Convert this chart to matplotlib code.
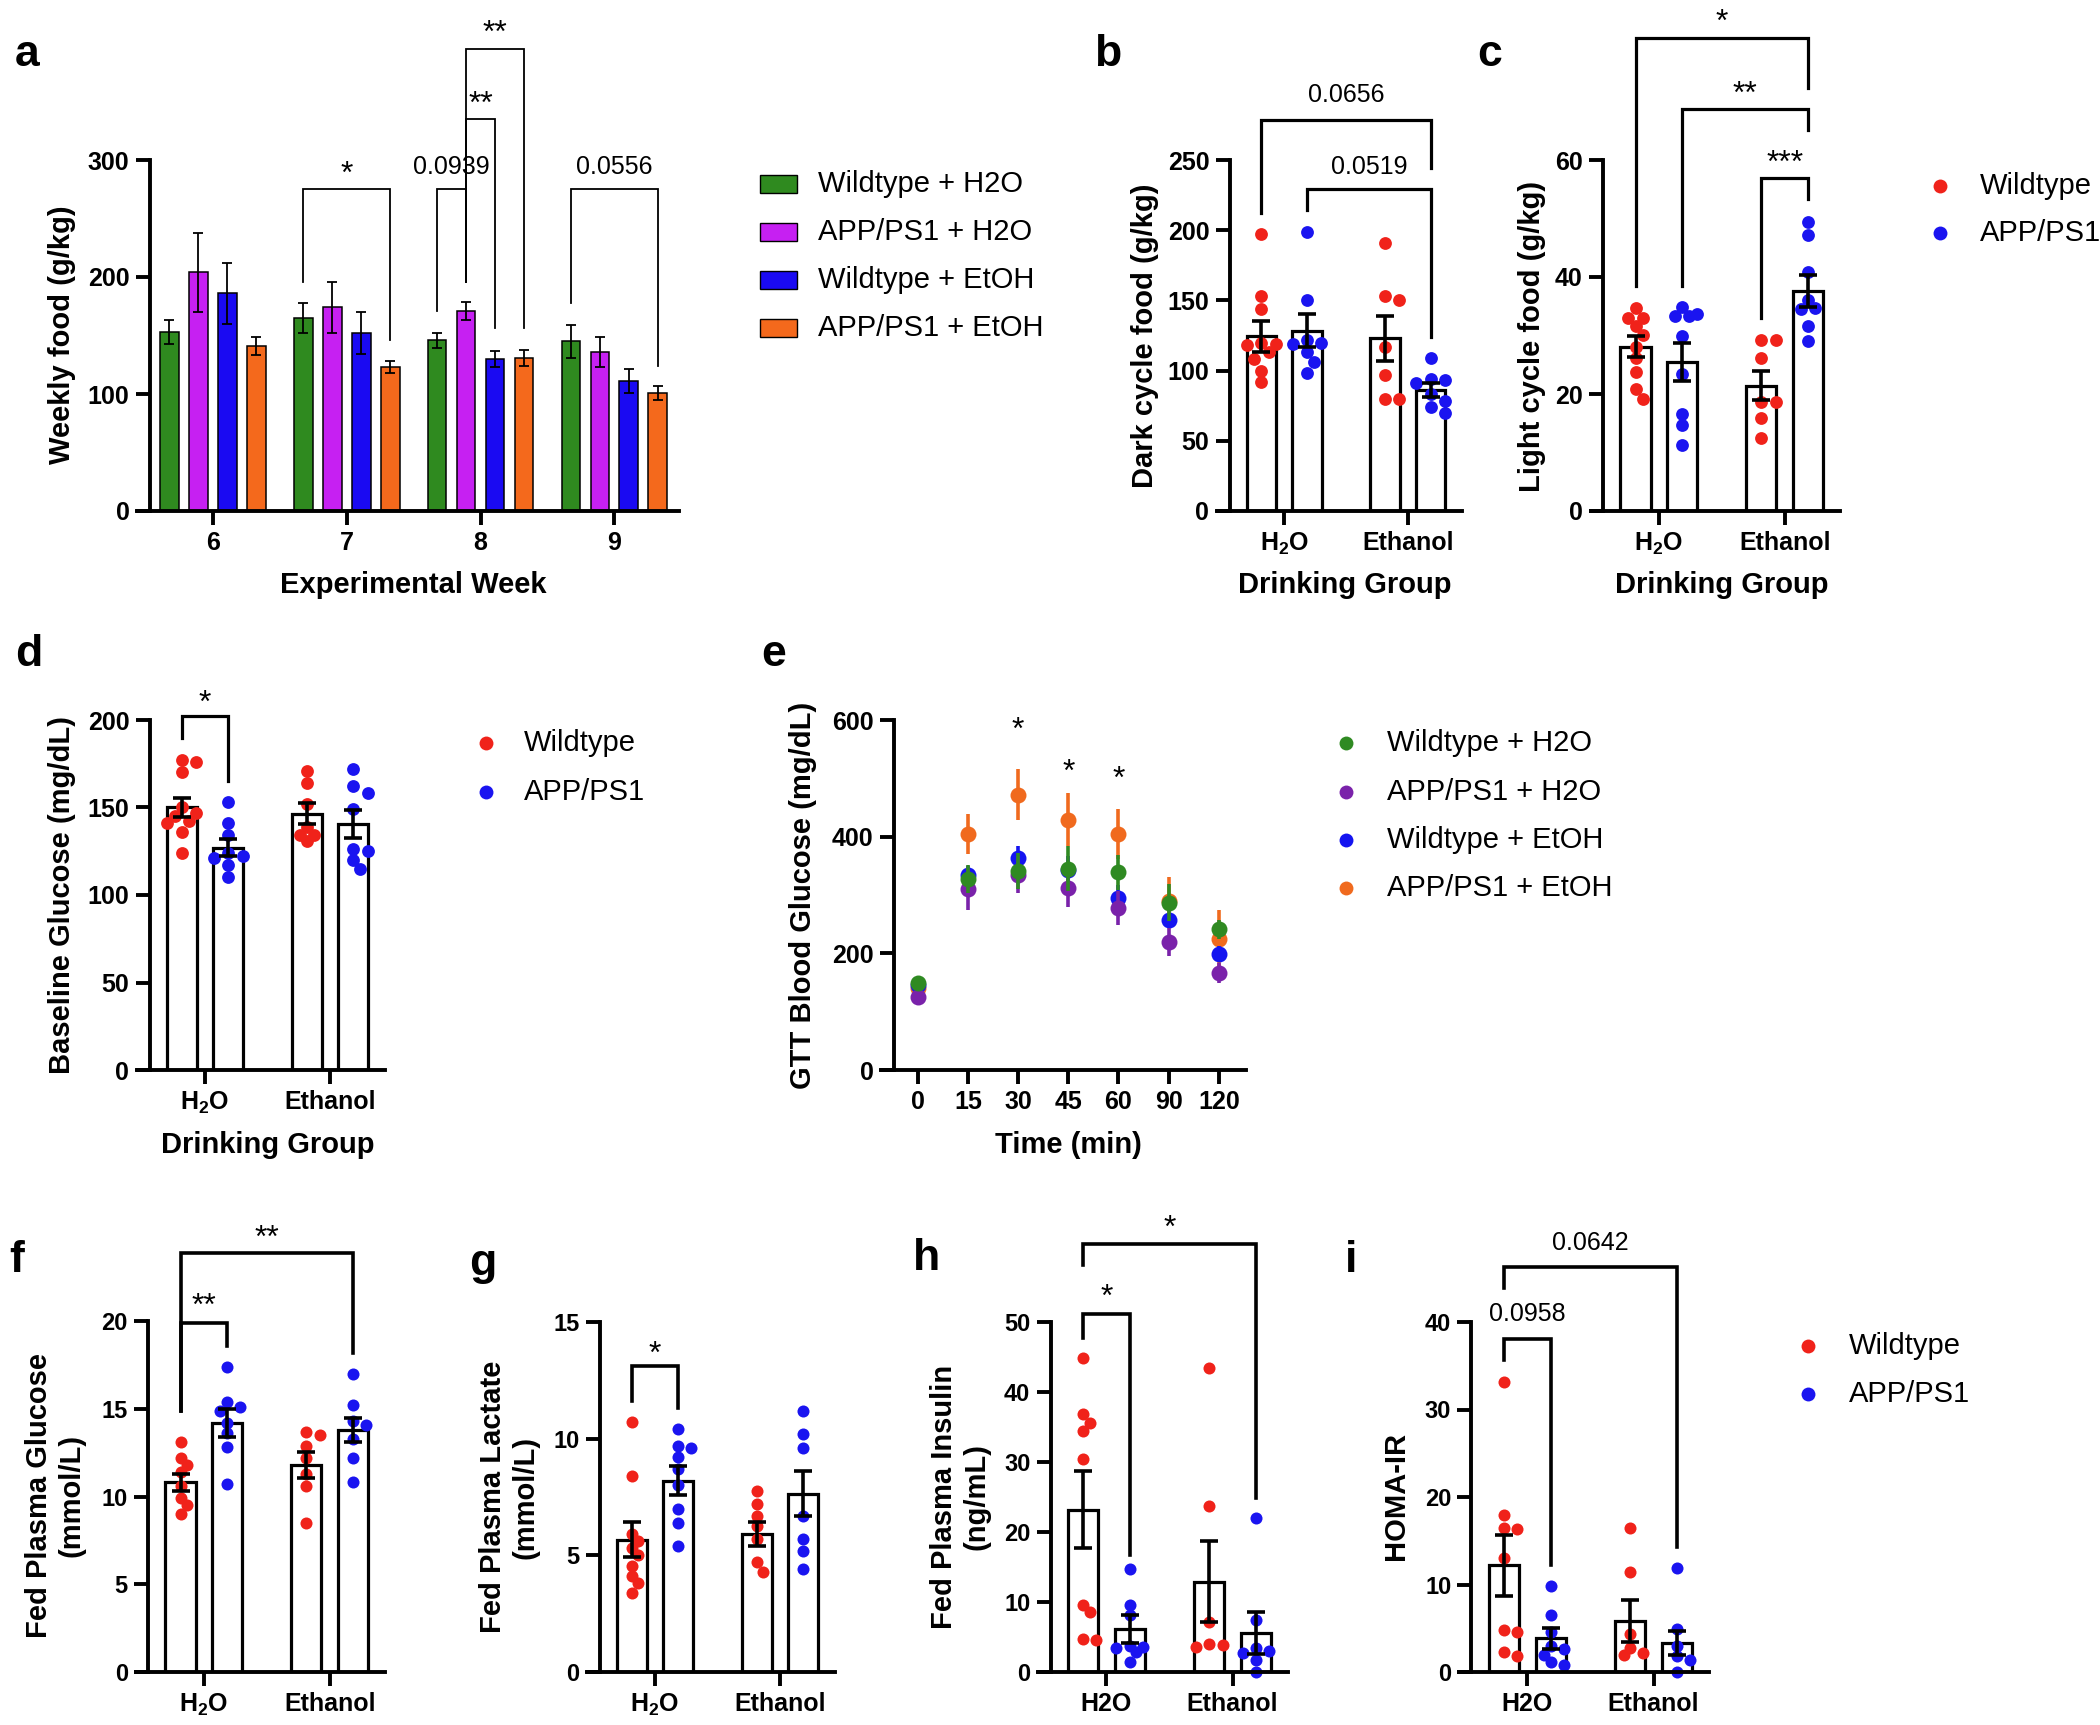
import numpy as np
import matplotlib.pyplot as plt
from matplotlib.lines import Line2D
from matplotlib.patches import Rectangle

plt.rcParams['font.family'] = ['Liberation Sans', 'DejaVu Sans']
plt.rcParams['mathtext.fontset'] = 'custom'
plt.rcParams['mathtext.rm'] = 'Liberation Sans:bold'
plt.rcParams['mathtext.bf'] = 'Liberation Sans:bold'

# ---------------- data ----------------
weeks = [6, 7, 8, 9]
food_labels = ['Wildtype + H2O', 'APP/PS1 + H2O', 'Wildtype + EtOH', 'APP/PS1 + EtOH']
food_colors = ['#2f8a1f', '#c620f2', '#1a0af2', '#f4691c']
food_wt_h2o = [153, 165, 146, 145]
food_wt_h2o_sem = [10, 13, 6.5, 14]
food_app_h2o = [204, 174, 171, 136]
food_app_h2o_sem = [34, 22, 8, 13]
food_wt_etoh = [186, 152, 130, 111]
food_wt_etoh_sem = [26, 18, 7, 10]
food_app_etoh = [141, 123, 131, 101]
food_app_etoh_sem = [8, 5, 7, 6]

geno_labels = ['Wildtype', 'APP/PS1']
geno_colors = ['#f0221a', '#1a14f0']

# b: dark cycle food
dark_wt = [[197, 153, 144, 120, 119, 118, 113, 108, 100, 92], [191, 153, 150, 117, 97, 80, 80]]
dark_app = [[199, 150, 122, 120, 119, 113, 106, 98], [109, 94, 93, 91, 83, 78, 74, 70]]
dark_wt_mean, dark_wt_sem = [124.6, 123.0], [11, 16]
dark_app_mean, dark_app_sem = [128.5, 86.4], [12, 5]

# c: light cycle food
light_wt = [[34.7, 33.0, 33.0, 31.7, 30.1, 28.1, 26.2, 23.8, 20.8, 19.2], [29.3, 29.3, 26.2, 18.7, 18.7, 15.9, 12.4]]
light_app = [[34.8, 33.6, 33.4, 33.3, 30.0, 23.4, 16.6, 14.7, 11.3], [49.4, 47.1, 40.9, 36.0, 34.7, 34.5, 31.6, 29.1]]
light_wt_mean, light_wt_sem = [28.1, 21.4], [1.8, 2.5]
light_app_mean, light_app_sem = [25.5, 37.6], [3.2, 2.7]

# d: baseline glucose
base_wt = [[177, 176, 170, 150, 147, 145, 142, 141, 136, 124], [171, 164, 152, 139, 134, 134, 131]]
base_app = [[153, 141, 134, 124, 122, 121, 117, 110], [172, 162, 158, 149, 126, 125, 120, 115]]
base_wt_mean, base_wt_sem = [150, 146.3], [5.7, 6]
base_app_mean, base_app_sem = [127, 140.8], [5, 8]

# e: GTT
gtt_time = ['0', '15', '30', '45', '60', '90', '120']
gtt_wt_h2o = [149, 327, 341, 345, 339, 287, 241]
gtt_wt_h2o_sem = [3, 24, 31, 39, 30, 31, 17]
gtt_app_h2o = [126, 310, 335, 312, 277, 220, 166]
gtt_app_h2o_sem = [3, 36, 32, 32, 29, 24, 17]
gtt_wt_etoh = [146, 335, 364, 343, 295, 258, 199]
gtt_wt_etoh_sem = [3, 14, 20, 23, 22, 12, 14]
gtt_app_etoh = [140, 405, 472, 429, 405, 290, 225]
gtt_app_etoh_sem = [3, 34, 44, 45, 43, 40, 50]
gtt_colors = ['#2f8a22', '#7a22aa', '#1414f0', '#f06a1e']

# f: fed plasma glucose
glu_wt = [[13.1, 12.2, 11.8, 11.4, 10.6, 9.9, 9.5, 9.0], [13.7, 13.5, 12.9, 12.2, 11.3, 10.6, 8.5]]
glu_app = [[17.4, 15.4, 15.1, 14.9, 14.2, 13.6, 12.8, 10.7], [17.0, 15.2, 14.3, 14.1, 13.3, 12.2, 10.8]]
glu_wt_mean, glu_wt_sem = [10.8, 11.8], [0.46, 0.75]
glu_app_mean, glu_app_sem = [14.2, 13.8], [0.8, 0.7]

# g: fed plasma lactate
lac_wt = [[10.7, 8.4, 5.9, 5.6, 5.3, 5.0, 4.55, 4.1, 3.8, 3.4], [7.75, 7.2, 6.7, 6.25, 5.7, 4.7, 4.3]]
lac_app = [[10.4, 9.7, 9.6, 9.2, 8.7, 8.0, 7.0, 6.4, 5.4], [11.2, 10.2, 9.6, 6.7, 5.7, 5.2, 4.4]]
lac_wt_mean, lac_wt_sem = [5.66, 5.92], [0.75, 0.5]
lac_app_mean, lac_app_sem = [8.2, 7.65], [0.62, 0.95]

# h: fed plasma insulin
ins_wt = [[44.8, 36.9, 35.6, 34.4, 30.4, 9.6, 8.6, 4.7, 4.6], [43.5, 23.7, 7.2, 4.0, 3.8, 3.6]]
ins_app = [[14.7, 9.6, 8.1, 3.7, 3.6, 3.5, 2.8, 1.5], [22.0, 7.4, 3.5, 3.0, 2.7, 1.7, 0.0]]
ins_wt_mean, ins_wt_sem = [23.2, 12.9], [5.5, 5.8]
ins_app_mean, ins_app_sem = [6.2, 5.6], [2.0, 3.0]

# i: HOMA-IR
homa_wt = [[33.2, 18.0, 16.5, 16.3, 13.0, 4.8, 4.6, 2.3, 1.8], [16.5, 11.4, 4.4, 2.8, 2.2, 2.0]]
homa_app = [[9.8, 6.55, 4.6, 3.0, 2.6, 2.0, 1.1, 0.8], [11.9, 4.9, 3.0, 1.8, 1.4, 0.0]]
homa_wt_mean, homa_wt_sem = [12.2, 5.84], [3.5, 2.4]
homa_app_mean, homa_app_sem = [3.85, 3.3], [1.2, 1.4]

H2O_SUB = r'H$_\mathbf{2}$O'

# ---------------- helpers ----------------
W, H = 2100, 1725
fig = plt.figure(figsize=(W / 100, H / 100), dpi=100)
LW = 2.8
LABEL_FS = 21
LEG_FS = 21


def fx(x):
    return x / W


def fy(y):
    return 1 - y / H


def new_ax(left, right, y0, ytop):
    ax = fig.add_axes([fx(left), fy(y0), (right - left) / W, (y0 - ytop) / H])
    ax.patch.set_alpha(0)
    for s in ['top', 'right']:
        ax.spines[s].set_visible(False)
    for s in ['left', 'bottom']:
        ax.spines[s].set_linewidth(LW)
    ax.tick_params(width=LW, length=10, pad=4.5)
    # x axis runs a little past the y axis, as in Prism
    ext = 14.5 / (right - left)
    ax.plot([-ext, 0], [0, 0], color='k', lw=LW, transform=ax.get_yaxis_transform(),
            clip_on=False, solid_capstyle='butt')
    return ax


def set_yaxis(ax, ticks, fs=18):
    ax.set_ylim(0, ticks[-1])
    ax.set_yticks(ticks)
    ax.set_yticklabels([str(t) for t in ticks], fontsize=fs, fontweight='bold')


def set_xcats(ax, labels, fs=18):
    ax.set_xticks(range(len(labels)))
    ax.set_xticklabels(labels, fontsize=fs, fontweight='bold')


def swarm(vals, ypx, xpx=125.0, d=12.0):
    # simple beeswarm kept inside the bar
    vals = np.asarray(vals, float)
    placed = []
    offs = np.zeros(len(vals))
    cands = [0, 1, -1, 2, -2]
    for i in np.argsort(-vals):
        y = vals[i] * ypx
        best, best_d = 0.0, -1.0
        for k in cands:
            x = k * d * 0.6
            md = min([np.hypot(x - a, y - b) for a, b in placed] + [1e9])
            if md >= 0.85 * d:
                best = x
                break
            if md > best_d:
                best, best_d = x, md
        placed.append((best, y))
        offs[i] = best / xpx
    return offs


def dot_panel(ax, wt_pts, app_pts, wt_mean, wt_sem, app_mean, app_sem, ypx, s=85, d=12.0):
    for gi in range(2):
        for pts, mean, sem, sign, col in [(wt_pts[gi], wt_mean[gi], wt_sem[gi], -1, geno_colors[0]),
                                          (app_pts[gi], app_mean[gi], app_sem[gi], 1, geno_colors[1])]:
            xc = gi + sign * 0.185
            ax.bar(xc, mean, 0.24, color='white', edgecolor='k', linewidth=2.3, zorder=1)
            ax.scatter(xc + swarm(pts, ypx, d=d), pts, s=s, color=col, linewidths=0, zorder=2,
                       clip_on=False)
            ax.errorbar(xc, mean, yerr=sem, fmt='none', ecolor='k', elinewidth=2.6,
                        capsize=6.5, capthick=2.6, zorder=3)
    ax.set_xlim(-0.444, 1.44)


def bracket(ax, x1, x2, y, b1, b2, label, ty, lw=2.3, fs=18, star=False):
    ax.plot([x1, x1, x2, x2], [b1, y, y, b2], color='k', lw=lw, clip_on=False,
            solid_joinstyle='miter')
    if star:
        ax.annotate(label, ((x1 + x2) / 2, ty), xytext=(0, -0.22 * fs), textcoords='offset points',
                    ha='center', va='center', fontsize=fs, annotation_clip=False)
    else:
        ax.text((x1 + x2) / 2, ty, label, ha='center', va='center', fontsize=fs, clip_on=False)


def panel_letter(x, y, s):
    fig.text(fx(x), fy(y), s, fontsize=32, fontweight='bold', ha='center', va='center')


def ylab(x, y, s, fs=LABEL_FS):
    fig.text(fx(x), fy(y), s, fontsize=fs, fontweight='bold', rotation=90, ha='center', va='center',
             linespacing=1.2)


def xlab(x, y, s, fs=LABEL_FS):
    fig.text(fx(x), fy(y), s, fontsize=fs, fontweight='bold', ha='center', va='center')


def dot_legend(xm, xt, ys, labels, colors, ms=10):
    for yy, lab, col in zip(ys, labels, colors):
        fig.add_artist(Line2D([fx(xm)], [fy(yy)], marker='o', ms=ms, color=col, mew=0,
                              transform=fig.transFigure))
        fig.text(fx(xt), fy(yy), lab, fontsize=LEG_FS, ha='left', va='center')


# ---------------- a ----------------
ax = new_ax(149.6, 678.6, 511, 160)
food_means = [food_wt_h2o, food_app_h2o, food_wt_etoh, food_app_etoh]
food_sems = [food_wt_h2o_sem, food_app_h2o_sem, food_wt_etoh_sem, food_app_etoh_sem]
offs = [-0.325, -0.108, 0.108, 0.325]
for k in range(4):
    xs = np.array(weeks) + offs[k]
    ax.bar(xs, food_means[k], 0.14, color=food_colors[k], edgecolor='k', linewidth=1.1, zorder=2)
    ax.errorbar(xs, food_means[k], yerr=food_sems[k], fmt='none', ecolor='k', elinewidth=1.3,
                capsize=3.8, capthick=1.3, zorder=3)
set_yaxis(ax, [0, 100, 200, 300])
ax.set_xlim(5.527, 9.48)
ax.set_xticks(weeks)
ax.set_xticklabels([str(w) for w in weeks], fontsize=18, fontweight='bold')
bracket(ax, 7 - 0.325, 7 + 0.325, 275, 196, 146, '*', 293, lw=1.3, fs=23, star=True)
bracket(ax, 8 - 0.325, 8 - 0.108, 275, 171, 196, '0.0939', 294, lw=1.3)
bracket(ax, 8 - 0.108, 8 + 0.108, 335, 196, 156, '**', 353, lw=1.3, fs=23, star=True)
bracket(ax, 8 - 0.108, 8 + 0.325, 395, 196, 156, '**', 414, lw=1.3, fs=23, star=True)
bracket(ax, 9 - 0.325, 9 + 0.325, 275, 178, 124, '0.0556', 294, lw=1.3)
panel_letter(27, 55, 'a')
ylab(62, 335, 'Weekly food (g/kg)')
xlab(413, 585, 'Experimental Week')
for yy, lab, col in zip([184, 232, 280, 328], food_labels, food_colors):
    fig.add_artist(Rectangle((fx(760), fy(yy + 9)), 37 / W, 18 / H, facecolor=col, edgecolor='k',
                             linewidth=1.0, transform=fig.transFigure))
    fig.text(fx(818), fy(yy), lab, fontsize=LEG_FS, ha='left', va='center')

# ---------------- b ----------------
ax = new_ax(1229.5, 1462, 511, 160)
dot_panel(ax, dark_wt, dark_app, dark_wt_mean, dark_wt_sem, dark_app_mean, dark_app_sem, 351 / 250)
set_yaxis(ax, [0, 50, 100, 150, 200, 250])
set_xcats(ax, [H2O_SUB, 'Ethanol'])
bracket(ax, -0.185, 1.185, 278.6, 212.6, 244, '0.0656', 296)
bracket(ax, 0.185, 1.185, 229, 214.5, 124, '0.0519', 245)
panel_letter(1108, 54, 'b')
ylab(1145, 336, 'Dark cycle food (g/kg)')
xlab(1345, 585, 'Drinking Group')

# ---------------- c ----------------
ax = new_ax(1603, 1840, 511, 160)
dot_panel(ax, light_wt, light_app, light_wt_mean, light_wt_sem, light_app_mean, light_app_sem, 351 / 60)
set_yaxis(ax, [0, 20, 40, 60])
set_xcats(ax, [H2O_SUB, 'Ethanol'])
bracket(ax, -0.185, 1.185, 80.8, 38.4, 72.3, '*', 84.7, fs=23, star=True)
bracket(ax, 0.185, 1.185, 68.7, 38.4, 65.1, '**', 72.4, fs=23, star=True)
bracket(ax, 1 - 0.185, 1.185, 56.9, 33.0, 53.3, '***', 60.5, fs=23, star=True)
panel_letter(1490, 54, 'c')
ylab(1532, 336, 'Light cycle food (g/kg)')
xlab(1722, 585, 'Drinking Group')
dot_legend(1940, 1980, [186, 233], geno_labels, geno_colors)

# ---------------- d ----------------
ax = new_ax(149.5, 385, 1070, 720)
dot_panel(ax, base_wt, base_app, base_wt_mean, base_wt_sem, base_app_mean, base_app_sem, 350 / 200)
set_yaxis(ax, [0, 50, 100, 150, 200])
set_xcats(ax, [H2O_SUB, 'Ethanol'])
bracket(ax, -0.185, 0.185, 202, 189.8, 165, '*', 213, fs=23, star=True)
panel_letter(29, 654, 'd')
ylab(62, 895, 'Baseline Glucose (mg/dL)')
xlab(268, 1145, 'Drinking Group')
dot_legend(486, 524, [743, 792], geno_labels, geno_colors)

# ---------------- e ----------------
ax = new_ax(893.6, 1246, 1070, 720)
xs = np.arange(len(gtt_time))
gtt = [(gtt_app_etoh, gtt_app_etoh_sem, gtt_colors[3]),
       (gtt_wt_etoh, gtt_wt_etoh_sem, gtt_colors[2]),
       (gtt_app_h2o, gtt_app_h2o_sem, gtt_colors[1]),
       (gtt_wt_h2o, gtt_wt_h2o_sem, gtt_colors[0])]
for z, (m, s, col) in enumerate(gtt):
    ax.errorbar(xs, m, yerr=s, fmt='o', color=col, ms=11.5, mew=0, elinewidth=2.6,
                capsize=6, capthick=2.6, zorder=2 + z)
set_yaxis(ax, [0, 200, 400, 600])
ax.set_xlim(-0.48, 6.54)
set_xcats(ax, gtt_time)
for t, yy in [(2, 593), (3, 522), (4, 509)]:
    ax.annotate('*', (t, yy), xytext=(0, -5), textcoords='offset points', ha='center', va='center',
                fontsize=23, annotation_clip=False)
panel_letter(774, 654, 'e')
ylab(803, 895, 'GTT Blood Glucose (mg/dL)')
xlab(1068, 1145, 'Time (min)')
dot_legend(1346, 1387, [743, 792, 840, 888], food_labels, gtt_colors)

# ---------------- f ----------------
ax = new_ax(148, 385, 1672, 1321)
dot_panel(ax, glu_wt, glu_app, glu_wt_mean, glu_wt_sem, glu_app_mean, glu_app_sem, 351 / 20, s=75, d=11)
set_yaxis(ax, [0, 5, 10, 15, 20], fs=17)
set_xcats(ax, [H2O_SUB, 'Ethanol'])
bracket(ax, -0.185, 0.185, 19.9, 14.85, 18.6, '**', 21.2, lw=2.6, fs=23, star=True)
bracket(ax, -0.185, 1.185, 23.9, 14.85, 18.2, '**', 25.1, lw=2.6, fs=23, star=True)
panel_letter(17, 1260, 'f')
ylab(55, 1495, 'Fed Plasma Glucose\n(mmol/L)')

# ---------------- g ----------------
ax = new_ax(599.5, 835, 1672, 1322)
dot_panel(ax, lac_wt, lac_app, lac_wt_mean, lac_wt_sem, lac_app_mean, lac_app_sem, 350 / 15, s=75, d=11)
set_yaxis(ax, [0, 5, 10, 15], fs=17)
set_xcats(ax, [H2O_SUB, 'Ethanol'])
bracket(ax, -0.185, 0.185, 13.1, 11.6, 11.3, '*', 13.9, lw=2.6, fs=23, star=True)
panel_letter(483, 1263, 'g')
ylab(509, 1497, 'Fed Plasma Lactate\n(mmol/L)')

# ---------------- h ----------------
ax = new_ax(1050.5, 1288, 1672, 1322)
dot_panel(ax, ins_wt, ins_app, ins_wt_mean, ins_wt_sem, ins_app_mean, ins_app_sem, 350 / 50, s=75, d=11)
set_yaxis(ax, [0, 10, 20, 30, 40, 50], fs=17)
set_xcats(ax, ['H2O', 'Ethanol'])
bracket(ax, -0.185, 0.185, 51.1, 47.7, 16.7, '*', 54.4, lw=2.6, fs=23, star=True)
bracket(ax, -0.185, 1.185, 61.2, 58.1, 24.8, '*', 64.3, lw=2.6, fs=23, star=True)
panel_letter(927, 1258, 'h')
ylab(960, 1497, 'Fed Plasma Insulin\n(ng/mL)')

# ---------------- i ----------------
ax = new_ax(1471.4, 1709, 1672, 1322)
dot_panel(ax, homa_wt, homa_app, homa_wt_mean, homa_wt_sem, homa_app_mean, homa_app_sem, 350 / 40, s=75, d=11)
set_yaxis(ax, [0, 10, 20, 30, 40], fs=17)
set_xcats(ax, ['H2O', 'Ethanol'])
bracket(ax, -0.185, 0.185, 38.1, 35.7, 12.2, '0.0958', 40.9, lw=2.6)
bracket(ax, -0.185, 1.185, 46.3, 43.9, 14.3, '0.0642', 49.0, lw=2.6)
panel_letter(1351, 1260, 'i')
ylab(1396, 1496, 'HOMA-IR')
dot_legend(1808, 1849, [1346, 1394], geno_labels, geno_colors)

fig.savefig('out.png', dpi=100)
